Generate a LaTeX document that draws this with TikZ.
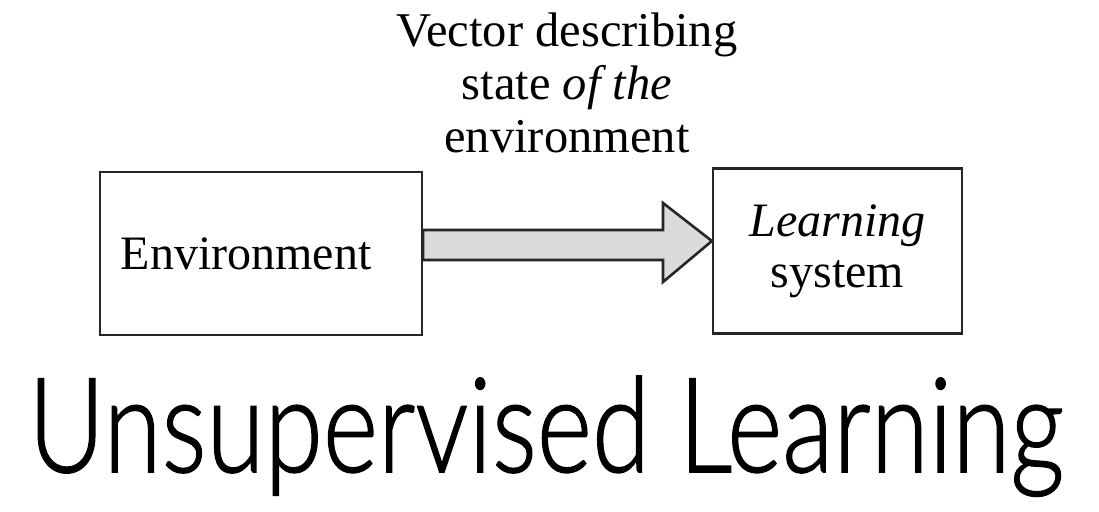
\documentclass[tikz,border=0pt]{standalone}
\usepackage{fontspec}
\setmainfont{Liberation Serif}
\newfontfamily\titlefont{Lato Light}[FakeBold=1.2]
\usetikzlibrary{calc}
\begin{document}
\begin{tikzpicture}[x=1pt,y=-1pt,
  blockbox/.style={draw=black!85, line width=2.2pt, fill=white, inner sep=0pt,
    font=\fontsize{48}{51}\selectfont, align=center},
  bigarrow/.style={draw=black!85, line width=2.6pt, fill=black!14, line join=miter},
  caption/.style={inner sep=0pt, align=center, font=\fontsize{48.5}{53}\selectfont},
  titletext/.style={inner sep=0pt, font=\titlefont\fontsize{132}{140}\selectfont}
]
\useasboundingbox (0,0) rectangle (1099,511);
\fill[white] (0,0) rectangle (1099,511);

\node[blockbox, minimum width=322pt, minimum height=163pt] (env) at (261,253.5) {Environment\hspace{30pt}};
\node[blockbox, minimum width=249pt, minimum height=165pt] (learn) at (837.5,251) {\textit{Learning}\\system};

\coordinate (tip) at (learn.west |- 0,241);
\draw[bigarrow] (env.east |- 0,230) -- (663,230) -- (663,203) -- (tip)
  -- (663,282) -- (663,260) -- (env.east |- 0,260) -- cycle;

\node[caption, anchor=north] (cap) at (567,13) {Vector describing\\state \textit{of the}\\environment};

\node[titletext, anchor=base west] (title) at (28,472) {\scalebox{0.8}[1]{Unsupervised Learning}};
\end{tikzpicture}
\end{document}
